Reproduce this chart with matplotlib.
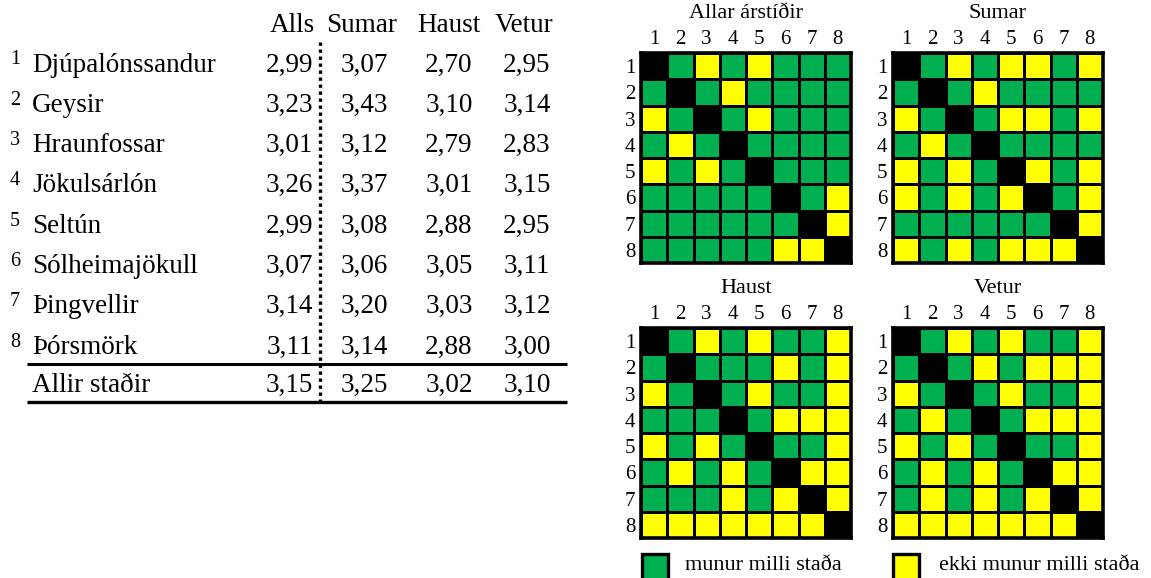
import matplotlib
matplotlib.use("Agg")
import matplotlib.pyplot as plt
from matplotlib.colors import ListedColormap
from matplotlib.patches import Rectangle
import numpy as np

plt.rcParams['font.family'] = ['Liberation Serif', 'DejaVu Serif']

# ---- data ----
places = ["Djúpalónssandur", "Geysir", "Hraunfossar", "Jökulsárlón", "Seltún",
          "Sólheimajökull", "Þingvellir", "Þórsmörk"]
columns = ["Alls", "Sumar", "Haust", "Vetur"]
alls = ["2,99", "3,23", "3,01", "3,26", "2,99", "3,07", "3,14", "3,11"]
sumar = ["3,07", "3,43", "3,12", "3,37", "3,08", "3,06", "3,20", "3,14"]
haust = ["2,70", "3,10", "2,79", "3,01", "2,88", "3,05", "3,03", "2,88"]
vetur = ["2,95", "3,14", "2,83", "3,15", "2,95", "3,11", "3,12", "3,00"]
total_label = "Allir staðir"
total = ["3,15", "3,25", "3,02", "3,10"]

# 1 = munur (green), 0 = ekki munur (yellow), 2 = diagonal (black)
m_allar = [[2,1,0,1,0,1,1,1],
           [1,2,1,0,1,1,1,1],
           [0,1,2,1,0,1,1,1],
           [1,0,1,2,1,1,1,1],
           [0,1,0,1,2,1,1,1],
           [1,1,1,1,1,2,1,0],
           [1,1,1,1,1,1,2,0],
           [1,1,1,1,1,0,0,2]]
m_sumar = [[2,1,0,1,0,0,1,0],
           [1,2,1,0,1,1,1,1],
           [0,1,2,1,0,0,1,0],
           [1,0,1,2,1,1,1,1],
           [0,1,0,1,2,0,1,0],
           [0,1,0,1,0,2,1,0],
           [1,1,1,1,1,1,2,0],
           [0,1,0,1,0,0,0,2]]
m_haust = [[2,1,0,1,0,1,1,0],
           [1,2,1,1,1,0,1,0],
           [0,1,2,1,0,1,1,0],
           [1,1,1,2,1,0,0,0],
           [0,1,0,1,2,1,1,0],
           [1,0,1,0,1,2,0,0],
           [1,1,1,0,1,0,2,0],
           [0,0,0,0,0,0,0,2]]
m_vetur = [[2,1,0,1,0,1,1,0],
           [1,2,1,0,1,0,0,0],
           [0,1,2,1,0,1,1,0],
           [1,0,1,2,1,0,0,0],
           [0,1,0,1,2,1,1,0],
           [1,0,1,0,1,2,0,0],
           [1,0,1,0,1,0,2,0],
           [0,0,0,0,0,0,0,2]]
matrix_titles = ["Allar árstíðir", "Sumar", "Haust", "Vetur"]
matrices = [m_allar, m_sumar, m_haust, m_vetur]
legend_labels = ["munur milli staða", "ekki munur milli staða"]

GREEN = "#00B050"
YELLOW = "#FFFF00"

W, H = 1151, 578
fig = plt.figure(figsize=(W/100, H/100), dpi=100)

# ---- table (pixel coordinate overlay) ----
ax = fig.add_axes([0, 0, 1, 1])
ax.set_xlim(0, W)
ax.set_ylim(H, 0)
ax.axis('off')

fs = 19.5
header_x = [292, 362, 449, 524]
for x, c in zip(header_x, columns):
    ax.text(x, 26, c, ha='center', va='center', fontsize=fs)

ALLS_R, SUM_C, HAU_C, VET_C = 313, 364, 449, 527
row_y0, row_dy = 65, 40.3
for i, name in enumerate(places):
    y = row_y0 + i * row_dy
    ax.text(15, y - 5, str(i + 1), ha='center', va='center', fontsize=14.5)
    ax.text(32, y, name, ha='left', va='center', fontsize=fs)
    ax.text(ALLS_R, y, alls[i], ha='right', va='center', fontsize=fs)
    ax.text(SUM_C, y, sumar[i], ha='center', va='center', fontsize=fs)
    ax.text(HAU_C, y, haust[i], ha='center', va='center', fontsize=fs)
    ax.text(VET_C, y, vetur[i], ha='center', va='center', fontsize=fs)

yt = 385
ax.text(32, yt, total_label, ha='left', va='center', fontsize=fs)
ax.text(ALLS_R, yt, total[0], ha='right', va='center', fontsize=fs)
ax.text(SUM_C, yt, total[1], ha='center', va='center', fontsize=fs)
ax.text(HAU_C, yt, total[2], ha='center', va='center', fontsize=fs)
ax.text(VET_C, yt, total[3], ha='center', va='center', fontsize=fs)

ax.plot([27, 567], [364, 364], color='black', lw=2.2, solid_capstyle='butt')
ax.plot([27, 567], [402, 402], color='black', lw=2.4, solid_capstyle='butt')
ax.plot([320, 320], [42, 402], color='black', lw=2.4, linestyle=(0, (1, 1.1)))

# ---- matrices ----
cmap = ListedColormap([YELLOW, GREEN, "black"])
boxes = [(641, 53), (893, 53), (641, 328), (893, 328)]
size = 210
for (x0, y0), title, m in zip(boxes, matrix_titles, matrices):
    a = fig.add_axes([x0 / W, 1 - (y0 + size) / H, size / W, size / H])
    arr = np.array(m)
    a.pcolormesh(arr, cmap=cmap, vmin=-0.5, vmax=2.5, edgecolors='black', linewidth=1.8)
    a.set_xlim(0, 8)
    a.set_ylim(8, 0)
    a.set_xticks(np.arange(8) + 0.5)
    a.set_yticks(np.arange(8) + 0.5)
    a.set_xticklabels([str(i + 1) for i in range(8)], fontsize=15)
    a.set_yticklabels([str(i + 1) for i in range(8)], fontsize=15)
    a.xaxis.tick_top()
    a.tick_params(axis='x', length=0, pad=3)
    a.tick_params(axis='y', length=0, pad=4)
    for s in a.spines.values():
        s.set_linewidth(2.6)
    a.set_title(title, fontsize=16, pad=25)

# ---- legend ----
for (x, color), lab, tx in zip([(642, GREEN), (893, YELLOW)], legend_labels, [685, 939]):
    ax.add_patch(Rectangle((x, 554), 26, 26, facecolor=color, edgecolor='black', lw=2.4))
    ax.text(tx, 565, lab, ha='left', va='center', fontsize=16)

fig.savefig("out.png", dpi=100)
